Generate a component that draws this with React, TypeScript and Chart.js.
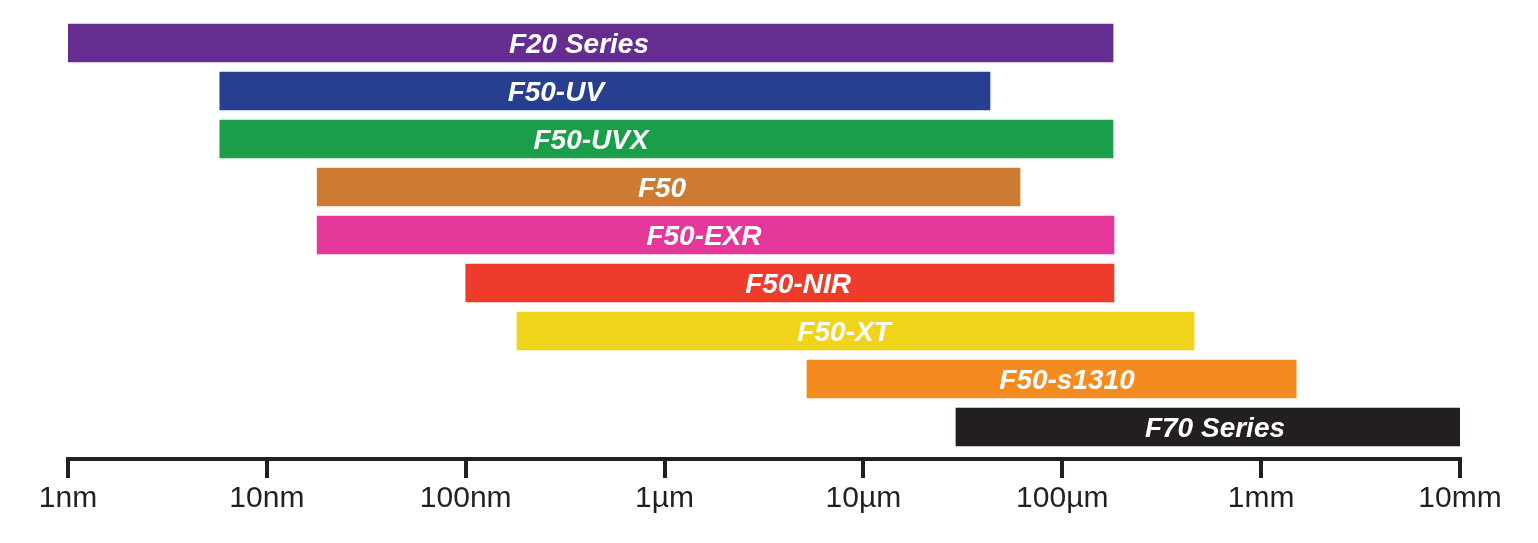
import React, { useEffect, useRef } from "react";
import { Chart, registerables } from "chart.js";

Chart.register(...registerables);

// Instrument names (top to bottom)
const instruments = [
  "F20 Series",
  "F50-UV",
  "F50-UVX",
  "F50",
  "F50-EXR",
  "F50-NIR",
  "F50-XT",
  "F50-s1310",
  "F70 Series",
];
// Thickness range, in nm
const rangeStart = [1, 5.8, 5.8, 17.9, 17.9, 100, 181, 5200, 29200];
const rangeEnd = [180000, 43300, 180000, 61300, 182000, 182000, 460000, 1500000, 10000000];
// Where each bar label is centred, in nm
const labelAt = [371, 284, 427, 971, 1578, 4690, 7990, 105600, 586000];
const barColors = [
  "#662d91",
  "#263f8f",
  "#1a9e4a",
  "#cd7a32",
  "#e5369a",
  "#ee3b2b",
  "#f0d41a",
  "#f58b1f",
  "#231f20",
];
// Axis ticks (nm) and their labels
const tickValues = [1, 10, 100, 1000, 10000, 100000, 1000000, 10000000];
const tickLabels = ["1nm", "10nm", "100nm", "1µm", "10µm", "100µm", "1mm", "10mm"];

const AXIS_COLOR = "#231f20";

const barLabelPlugin = {
  id: "barLabels",
  afterDatasetsDraw(chart: any) {
    const ctx = chart.ctx;
    const meta = chart.getDatasetMeta(0);
    const xScale = chart.scales.x;
    ctx.save();
    ctx.font = 'italic bold 28px "Liberation Sans", Arial, sans-serif';
    ctx.fillStyle = "#ffffff";
    ctx.textAlign = "center";
    ctx.textBaseline = "alphabetic";
    meta.data.forEach((el: any, i: number) => {
      const x = xScale.getPixelForValue(labelAt[i]);
      ctx.fillText(instruments[i], x, el.y + 10);
    });
    ctx.restore();
  },
};

export default function App() {
  const canvasRef = useRef<HTMLCanvasElement | null>(null);

  useEffect(() => {
    document.body.style.margin = "0";
    const canvas = canvasRef.current;
    if (!canvas) return;
    const chart = new Chart(canvas, {
      type: "bar",
      data: {
        datasets: [
          {
            data: instruments.map((_, i) => ({ y: i, x: [rangeStart[i], rangeEnd[i]] })) as any,
            backgroundColor: barColors,
            borderWidth: 0,
            barThickness: 38,
          },
        ],
      },
      options: {
        indexAxis: "y",
        animation: false,
        responsive: false,
        maintainAspectRatio: false,
        layout: { padding: { left: 68, right: 78, top: 19, bottom: 0 } },
        plugins: {
          legend: { display: false },
          tooltip: { enabled: false },
        },
        scales: {
          x: {
            type: "logarithmic",
            position: "bottom",
            min: 1,
            max: 10000000,
            afterBuildTicks: (axis: any) => {
              axis.ticks = tickValues.map((v) => ({ value: v }));
            },
            afterFit: (axis: any) => {
              axis.height = 84;
            },
            grid: {
              drawOnChartArea: false,
              drawTicks: true,
              tickLength: 19,
              tickWidth: 4,
              tickColor: AXIS_COLOR,
              color: AXIS_COLOR,
              lineWidth: 4,
            },
            border: { display: true, color: AXIS_COLOR, width: 4 },
            ticks: {
              autoSkip: false,
              maxRotation: 0,
              padding: 3,
              color: AXIS_COLOR,
              font: { family: '"Liberation Sans", Arial, sans-serif', size: 30 },
              callback: (_v: any, index: number) => tickLabels[index],
            },
          },
          y: {
            type: "linear",
            display: false,
            offset: false,
            grid: { offset: false },
            reverse: true,
            min: -0.5,
            max: 8.667,
          },
        },
      } as any,
      plugins: [barLabelPlugin],
    });
    return () => chart.destroy();
  }, []);

  return (
    <div style={{ width: 1538, height: 543 }}>
      <canvas ref={canvasRef} width={1538} height={543} style={{ display: "block" }} />
    </div>
  );
}
